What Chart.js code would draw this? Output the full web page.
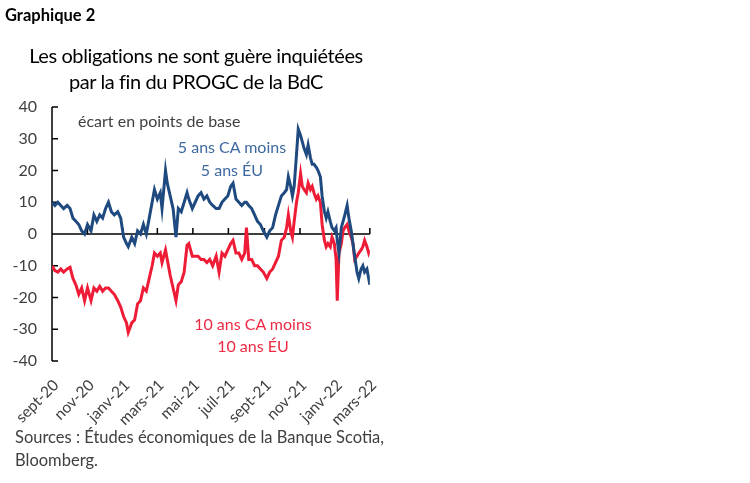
<!DOCTYPE html>
<html>
<head>
<meta charset="utf-8">
<script src="https://cdn.jsdelivr.net/npm/chart.js@4.4.1/dist/chart.umd.min.js"></script>
<style>
  body { margin: 0; background: #fff; width: 750px; height: 483px; overflow: hidden; font-family: Lato, sans-serif; }
  #wrap { position: relative; width: 750px; height: 483px; }
  canvas { position: absolute; left: 0; top: 0; }
  .t { position: absolute; white-space: nowrap; }
</style>
</head>
<body>
<div id="wrap">
  <canvas id="chart" width="390" height="483"></canvas>
  <div class="t" style="left:5px;top:5px;font-weight:bold;font-size:16.5px;color:#000">Graphique 2</div>
  <div class="t" style="left:0;width:392px;text-align:center;top:42px;font-size:20px;letter-spacing:-0.4px;line-height:26px;color:#000">Les obligations ne sont guère inquiétées<br>par la fin du PROGC de la BdC</div>
  <div class="t" style="left:78px;top:111px;font-size:16px;color:#404040">écart en points de base</div>
  <div class="t" style="left:170px;width:124px;text-align:center;top:135px;font-size:16px;line-height:23px;color:#3f6aa1">5 ans CA moins<br>5 ans ÉU</div>
  <div class="t" style="left:181px;width:144px;text-align:center;top:313px;font-size:16px;line-height:22px;color:#ee2a44">10 ans CA moins<br>10 ans ÉU</div>
  <div class="t" style="left:15px;top:426px;font-size:16.5px;line-height:23px;color:#404040">Sources : Études économiques de la Banque Scotia,<br>Bloomberg.</div>
</div>
<script>
// days since 1 Sept 2020
const days = [0, 5, 10, 15, 20, 26, 31, 36, 41, 46, 51, 56, 61, 67, 72, 77, 82, 87, 92, 97,
  102, 107, 113, 118, 123, 128, 131, 137, 142, 147, 152, 157, 162, 167, 172, 176, 181, 186, 189, 195,
  198, 203, 208, 213, 217, 222, 227, 232, 235, 241, 246, 251, 256, 261, 266, 271, 276, 282, 287, 292,
  297, 302, 307, 311, 316, 321, 326, 331, 334, 338, 343, 348, 353, 358, 363, 369, 374, 379, 384, 389,
  394, 399, 403, 406, 410, 413, 416, 420, 423, 427, 430, 433, 437, 440, 444, 447, 450, 454, 457, 461,
  464, 468, 471, 474, 478, 481, 485, 488, 490, 493, 497, 500, 503, 507, 510, 514, 517, 520, 524, 527,
  531, 534, 537, 541, 544, 546];

// 5 ans CA moins 5 ans EU (pb)
const spread5 = [10, 9, 10, 9, 8, 9, 8, 5, 4, 3, 1, 0, 3, 1, 6, 4, 6, 5, 8, 10,
  7, 6, 7, 5, -1, -3, -4, -1, -3, 1, 0, 3, 0, 5, 10, 14, 11, 13, 8, 20,
  16, 12, 8, -1, 8, 7, 10, 13, 11, 8, 10, 12, 13, 11, 12, 10, 9, 8, 8, 10,
  11, 12, 15, 16, 11, 10, 9, 10, 10, 9, 8, 6, 4, 3, 1, -1, 1, 2, 6, 9,
  12, 13, 14, 18, 15, 12, 15, 25, 33, 31, 29, 27, 25, 28, 24, 22, 22, 21, 20, 18,
  12, 7, 5, 7, 4, 2, 1, 2, -2, -6, 2, 4, 6, 9, 5, 1, -3, -7, -12, -14,
  -11, -10, -12, -11, -14, -16];

// 10 ans CA moins 10 ans EU (pb)
const spread10 = [-10, -11.5, -12, -11, -12, -11, -10.5, -14, -16, -19, -17, -21, -17, -21, -17, -18, -16.5, -18, -17, -17,
  -18, -19, -21, -23, -26, -28, -31, -28, -27, -22, -21, -17, -18, -14, -10, -6, -7, -6, -9, -5,
  -8, -13, -17, -21, -16, -15, -12, -3.5, -3, -7, -7, -7, -8, -8, -9, -8, -10, -7, -12, -6,
  -7, -5, -3, -2, -6, -6, -8, -6, 2, -8, -8, -10, -10, -11, -12, -14, -12, -11, -9, -7,
  -2, -1, 2, 6, 1, -1, 4, 10, 13, 19, 15, 14, 13, 16, 14, 15, 13, 11, 12, 10,
  3, -2, -4, -3, -4, -1, -3, -8, -21, -6, -3, 1, 2, 3, 1, -1, -3, -8, -7, -6,
  -5, -4, -2, -4, -6, -5];

const monthTicks = [0, 61, 122, 181, 242, 303, 365, 426, 487, 546];
const monthLabels = ['sept-20', 'nov-20', 'janv-21', 'mars-21', 'mai-21', 'juil-21', 'sept-21', 'nov-21', 'janv-22', 'mars-22'];
const yTicks = [-40, -30, -20, -10, 0, 10, 20, 30, 40];

const BLUE = '#1f4a7f';
const RED = '#ee1c36';

// axis line, inward ticks and zero line with month marks
const axisMarks = {
  id: 'axisMarks',
  beforeDatasetsDraw(chart) {
    const { ctx, chartArea: a, scales: { x, y } } = chart;
    ctx.save();
    ctx.strokeStyle = '#000';
    ctx.lineWidth = 1.5;
    ctx.beginPath();
    ctx.moveTo(a.left, a.top);
    ctx.lineTo(a.left, a.bottom);
    yTicks.forEach(v => {
      const py = y.getPixelForValue(v);
      ctx.moveTo(a.left, py);
      ctx.lineTo(a.left + 6, py);
    });
    const y0 = y.getPixelForValue(0);
    ctx.moveTo(a.left, y0);
    ctx.lineTo(a.right, y0);
    monthTicks.forEach(d => {
      const px = x.getPixelForValue(d);
      ctx.moveTo(px, y0);
      ctx.lineTo(px, y0 - 6);
    });
    ctx.stroke();
    ctx.restore();
  }
};

const toPoints = vals => vals.map((v, i) => ({ x: days[i], y: v }));

new Chart(document.getElementById('chart'), {
  type: 'line',
  data: {
    datasets: [
      { label: '5 ans CA moins 5 ans ÉU', data: toPoints(spread5), borderColor: BLUE, borderWidth: 3, pointRadius: 0, tension: 0 },
      { label: '10 ans CA moins 10 ans ÉU', data: toPoints(spread10), borderColor: RED, borderWidth: 3, pointRadius: 0, tension: 0 }
    ]
  },
  options: {
    responsive: false,
    animation: false,
    layout: { padding: { top: 107, right: 18, bottom: 0, left: 0 } },
    plugins: { legend: { display: false }, tooltip: { enabled: false } },
    scales: {
      x: {
        type: 'linear',
        min: 0,
        max: 546,
        afterBuildTicks: scale => { scale.ticks = monthTicks.map(v => ({ value: v })); },
        afterFit: scale => { scale.height = 122; },
        ticks: {
          autoSkip: false,
          maxRotation: 45,
          minRotation: 45,
          padding: 7,
          labelOffset: 4,
          color: '#404040',
          font: { family: 'Lato', size: 15.5 },
          callback: (v, i) => monthLabels[i]
        },
        grid: { display: false },
        border: { display: false }
      },
      y: {
        min: -40,
        max: 40,
        afterBuildTicks: scale => { scale.ticks = yTicks.map(v => ({ value: v })); },
        afterFit: scale => { scale.width = 52; },
        ticks: { padding: 15, color: '#404040', font: { family: 'Lato', size: 16 } },
        grid: { display: false, drawTicks: false },
        border: { display: false }
      }
    }
  },
  plugins: [axisMarks]
});
</script>
</body>
</html>
